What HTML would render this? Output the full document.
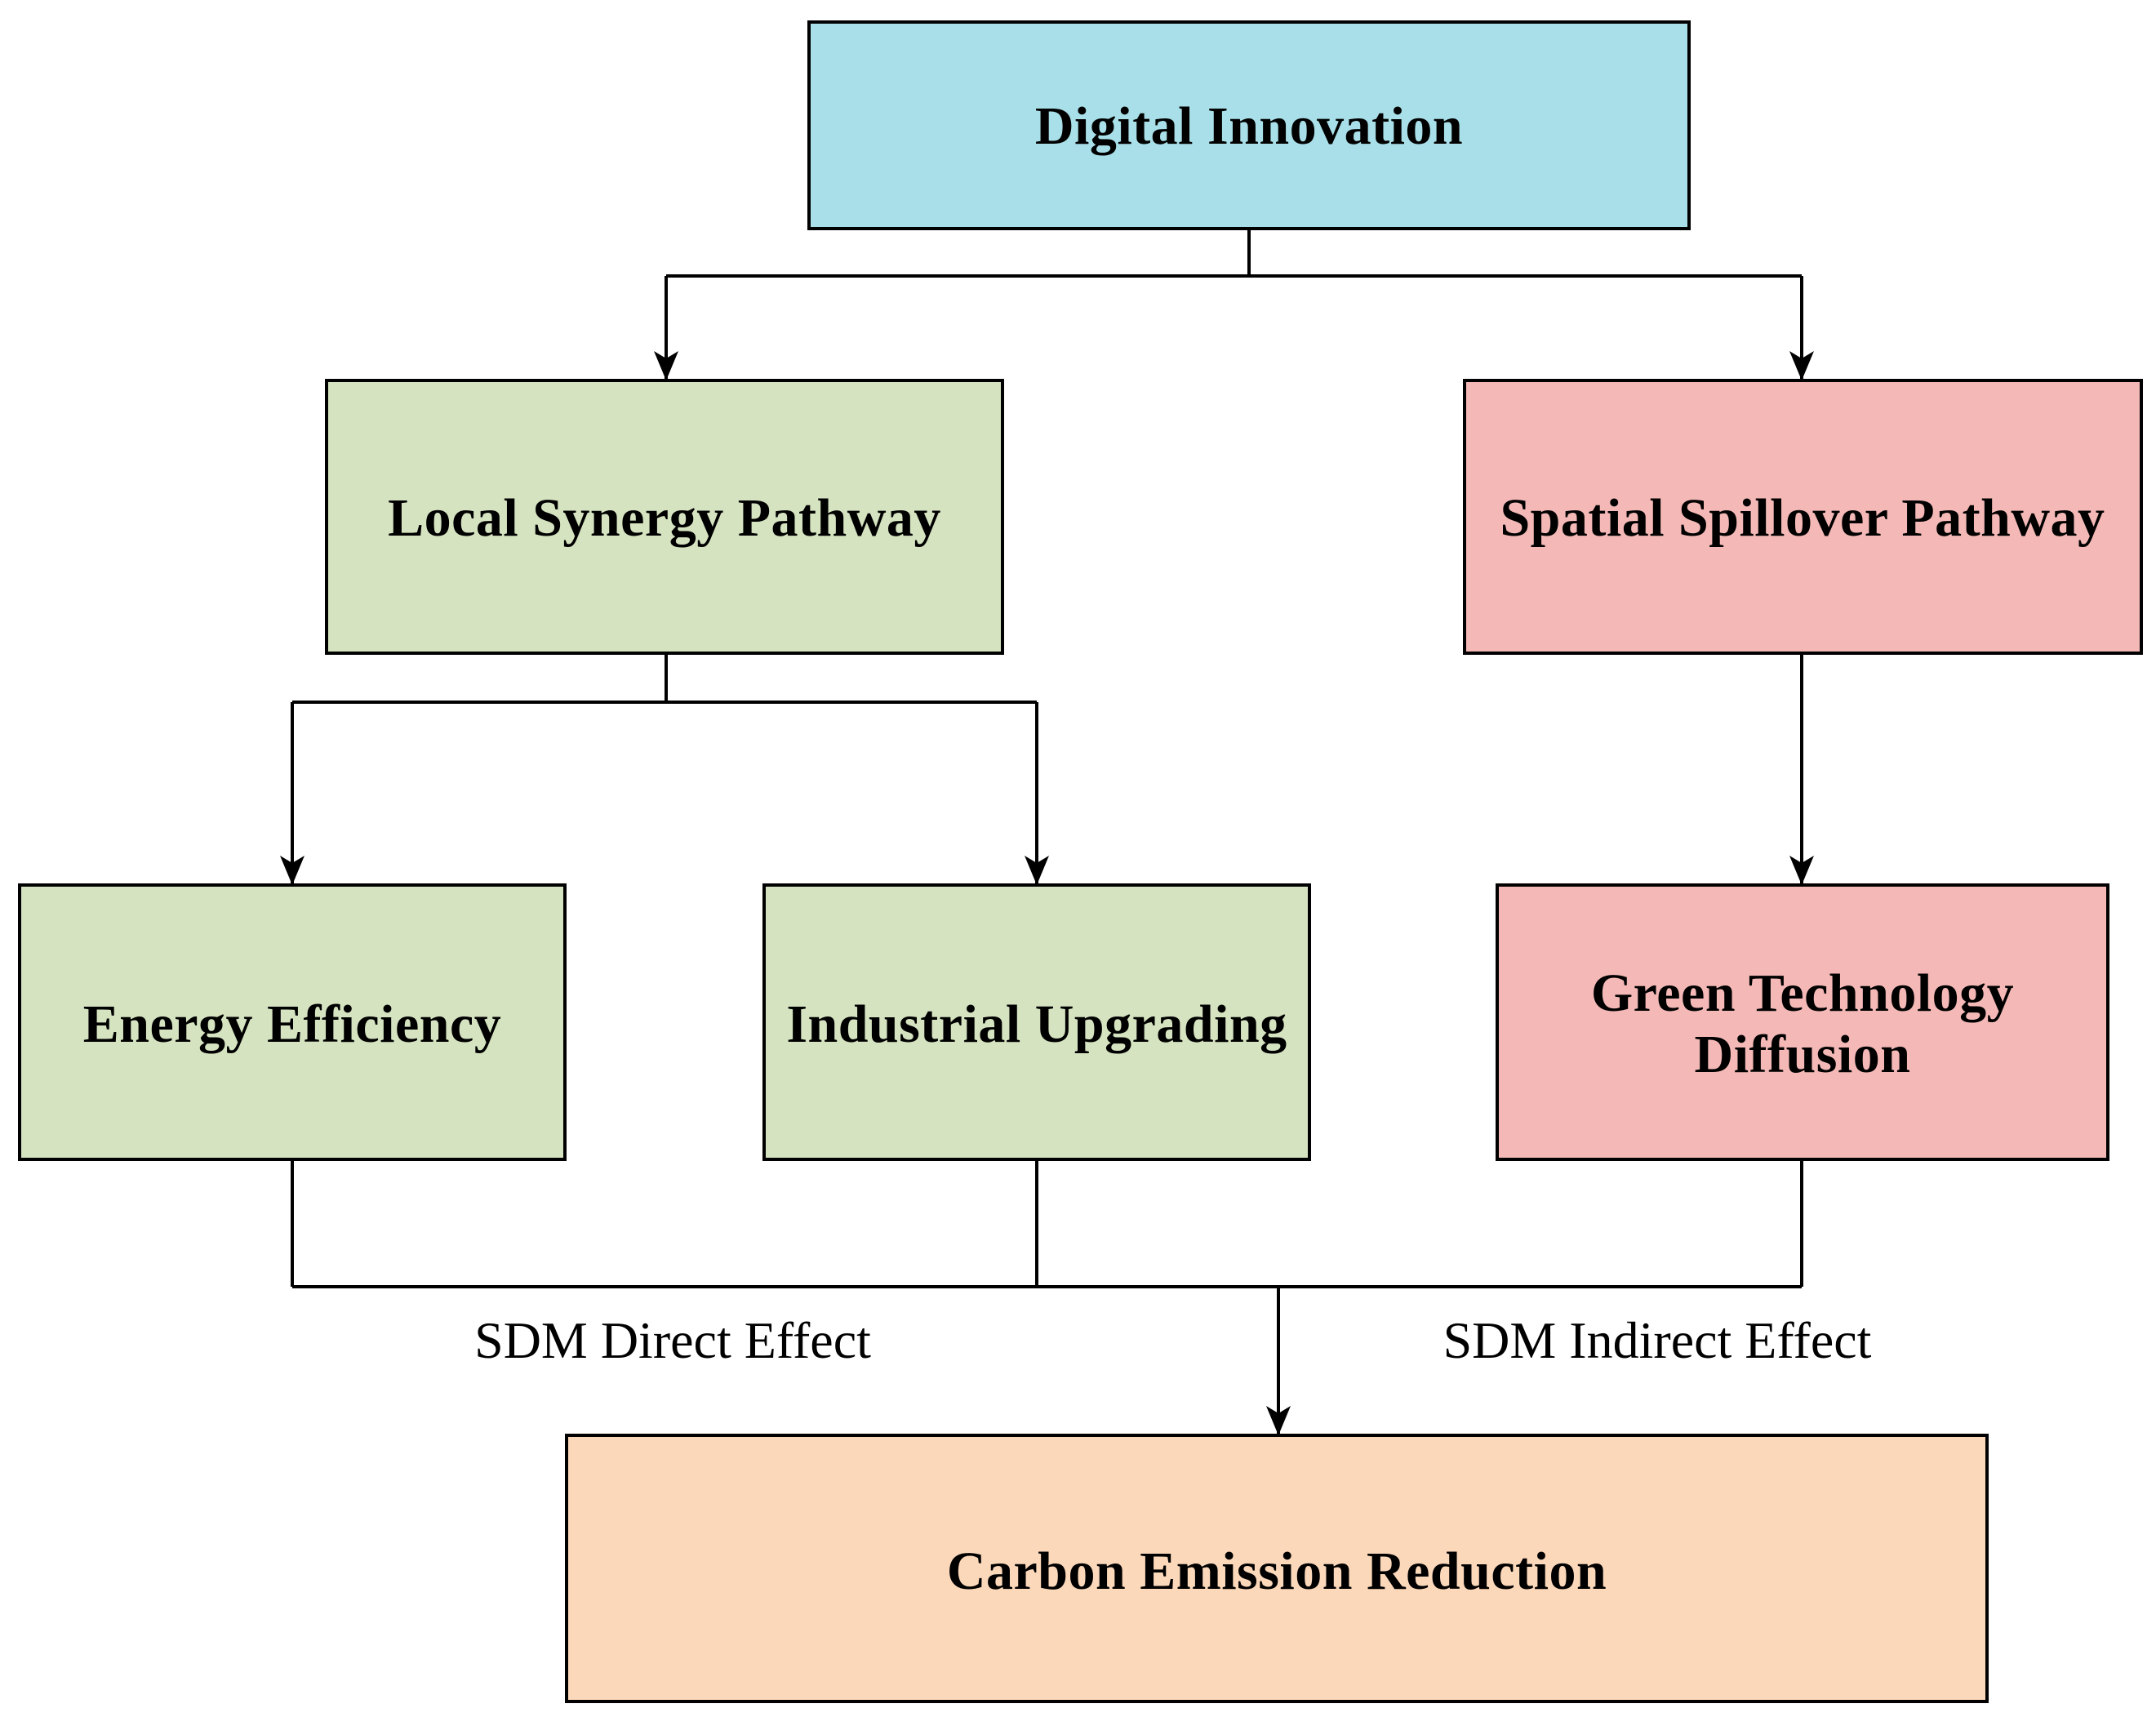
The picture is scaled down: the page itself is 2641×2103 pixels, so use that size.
<!DOCTYPE html>
<html><head><meta charset="utf-8"><style>
html,body{margin:0;padding:0;background:#fff}
svg{display:block}
text{font-family:"Liberation Serif",serif}
</style></head><body>
<svg width="2641" height="2103" viewBox="0 0 2641 2103" xmlns="http://www.w3.org/2000/svg">
<defs>
<marker id="b" viewBox="0 0 36 30" refX="36" refY="15" markerWidth="36" markerHeight="30" orient="auto" markerUnits="userSpaceOnUse"><path d="M0,0 L36,15 L0,30 L9,15 Z" fill="#000"/></marker></defs>
<g stroke="#000" stroke-width="4" fill="none">
<path d="M1530,280 V338"/>
<path d="M816,338 H2207"/>
<path d="M816,338 V466" marker-end="url(#b)"/>
<path d="M2207,338 V466" marker-end="url(#b)"/>
<path d="M816,800 V860"/>
<path d="M358,860 H1270"/>
<path d="M358,860 V1084" marker-end="url(#b)"/>
<path d="M1270,860 V1084" marker-end="url(#b)"/>
<path d="M2207,800 V1084" marker-end="url(#b)"/>
<path d="M358,1420 V1576 M1270,1420 V1576 M2207,1420 V1576"/>
<path d="M358,1576 H2207"/>
<path d="M1566,1576 V1758" marker-end="url(#b)"/>
</g>
<g stroke="#000" stroke-width="4">
<rect x="991" y="27" width="1078" height="253" fill="#a8dfe8"/>
<rect x="400" y="466" width="828" height="334" fill="#d5e3c0"/>
<rect x="1794" y="466" width="829" height="334" fill="#f4b9b7"/>
<rect x="24" y="1084" width="668" height="336" fill="#d5e3c0"/>
<rect x="936" y="1084" width="668" height="336" fill="#d5e3c0"/>
<rect x="1834" y="1084" width="748" height="336" fill="#f4b9b7"/>
<rect x="694" y="1758" width="1740" height="326" fill="#fcd8bb"/>
</g>
<g font-weight="bold" font-size="66" letter-spacing="0.5" text-anchor="middle" fill="#000">
<text x="1530" y="176">Digital Innovation</text>
<text x="814" y="656">Local Synergy Pathway</text>
<text x="2208" y="656">Spatial Spillover Pathway</text>
<text x="358" y="1276">Energy Efficiency</text>
<text x="1270" y="1276">Industrial Upgrading</text>
<text x="2208" y="1238">Green Technology</text>
<text x="2208" y="1313">Diffusion</text>
<text x="1564" y="1946">Carbon Emission Reduction</text>
</g>
<g font-size="64" text-anchor="middle" fill="#000">
<text x="824" y="1663">SDM Direct Effect</text>
<text x="2030" y="1663">SDM Indirect Effect</text>
</g>
</svg>
</body></html>
